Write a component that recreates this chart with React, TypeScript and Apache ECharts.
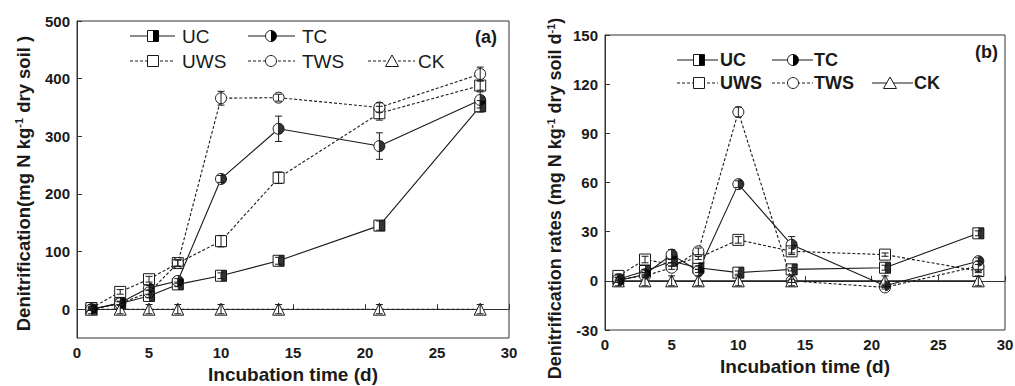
import React, { useEffect, useRef } from "react";
import * as echarts from "echarts";

const FONT = '"Liberation Sans", Arial, Helvetica, sans-serif';
const INK = "#1a1a1a";

// ---------- data ----------
const days = [1, 3, 5, 7, 10, 14, 21, 28];
const xTicks = [0, 5, 10, 15, 20, 25, 30];
const aYTicks = [0, 100, 200, 300, 400, 500];
const bYTicks = [-30, 0, 30, 60, 90, 120, 150];

// (a) cumulative denitrification
const aUC = [0, 10, 23, 43, 58, 84, 145, 352];
const aUCerr = [2, 3, 3, 4, 5, 6, 8, 10];
const aTC = [0, 11, 37, 49, 226, 313, 283, 363];
const aTCerr = [2, 3, 4, 4, 6, 22, 23, 14];
const aUWS = [2, 30, 52, 80, 118, 228, 340, 388];
const aUWSerr = [3, 4, 5, 5, 10, 10, 12, 8];
const aTWS = [0, 10, 29, 80, 366, 367, 350, 408];
const aTWSerr = [2, 3, 4, 6, 12, 6, 8, 12];
const aCK = [0, 0, 0, 0, 0, 0, 0, 0];
const aCKerr = [8, 8, 8, 8, 8, 8, 8, 8];

// (b) denitrification rates
const bUC = [1, 6, 12, 8, 5, 7, 8, 29];
const bUCerr = [1, 1, 1, 1, 1, 1, 1.5, 1.5];
const bTC = [0, 4, 16, 6, 59, 22, -3, 12];
const bTCerr = [1, 1, 3, 1, 2, 5, 1, 2];
const bUWS = [3, 13, 10, 14, 25, 18, 16, 6];
const bUWSerr = [1, 2, 1, 1, 2, 2, 1, 1];
const bTWS = [1, 3, 8, 18, 103, 0, -4, 9];
const bTWSerr = [1, 1, 1, 2, 3, 1, 1, 3];
const bCK = [0, 0, 0, 0, 0, 0, 0, 0];
const bCKerr = [3, 3, 3, 3, 3, 3, 3, 3];

const HALF_CIRCLE = "path://M0 0A10 10 0 0 1 0 20Z";

type Spec = { name: string; vals: number[]; errs: number[]; dashed: boolean; shape: string; half: boolean };

function panelSeries(idx: number, specs: Spec[], size: number) {
  const out: any[] = [];
  specs.forEach((s, k) => {
    const pts = days.map((d, i) => [d, s.vals[i]]);
    out.push({
      type: "line",
      name: s.name,
      xAxisIndex: idx,
      yAxisIndex: idx,
      data: pts,
      symbol: s.shape,
      symbolSize: s.shape === "triangle" ? size + 1 : size,
      showSymbol: true,
      z: 3 + k * 0.01,
      lineStyle: { color: INK, width: 1.1, type: s.dashed ? [3, 2] : "solid" },
      itemStyle: { color: "#fff", borderColor: INK, borderWidth: 1 },
      emphasis: { disabled: true },
    });
    if (s.half) {
      const isCircle = s.shape === "circle";
      out.push({
        type: "scatter",
        xAxisIndex: idx,
        yAxisIndex: idx,
        data: pts,
        symbol: isCircle ? HALF_CIRCLE : "rect",
        symbolSize: [size / 2, size],
        symbolOffset: [size / 4, 0],
        z: 4,
        itemStyle: { color: "#000" },
        emphasis: { disabled: true },
        silent: true,
      });
    }
    out.push({
      type: "custom",
      xAxisIndex: idx,
      yAxisIndex: idx,
      z: 5,
      silent: true,
      data: days.map((d, i) => [d, s.vals[i] - s.errs[i], s.vals[i] + s.errs[i]]),
      encode: { x: 0, y: [1, 2] },
      renderItem: (params: any, api: any) => {
        const x = api.value(0);
        const lo = api.coord([x, api.value(1)]);
        const hi = api.coord([x, api.value(2)]);
        const w = 3.5;
        const st = { stroke: INK, lineWidth: 1 };
        return {
          type: "group",
          children: [
            { type: "line", shape: { x1: lo[0], y1: lo[1], x2: hi[0], y2: hi[1] }, style: st },
            { type: "line", shape: { x1: lo[0] - w, y1: lo[1], x2: lo[0] + w, y2: lo[1] }, style: st },
            { type: "line", shape: { x1: hi[0] - w, y1: hi[1], x2: hi[0] + w, y2: hi[1] }, style: st },
          ],
        };
      },
    });
  });
  return out;
}

function legendMarker(shape: string, half: boolean, cx: number, cy: number, size: number) {
  const r = size / 2;
  const els: any[] = [];
  const st = { fill: "#fff", stroke: INK, lineWidth: 1 };
  if (shape === "rect") {
    els.push({ type: "rect", shape: { x: cx - r, y: cy - r, width: size, height: size }, style: st, z: 10 });
    if (half) els.push({ type: "rect", shape: { x: cx, y: cy - r, width: r, height: size }, style: { fill: "#000" }, z: 11 });
  } else if (shape === "circle") {
    els.push({ type: "circle", shape: { cx, cy, r }, style: st, z: 10 });
    if (half)
      els.push({
        type: "sector",
        shape: { cx, cy, r0: 0, r, startAngle: -Math.PI / 2, endAngle: Math.PI / 2, clockwise: true },
        style: { fill: "#000" },
        z: 11,
      });
  } else {
    els.push({
      type: "polygon",
      shape: { points: [[cx, cy - r - 0.5], [cx + r + 1, cy + r], [cx - r - 1, cy + r]] },
      style: st,
      z: 10,
    });
  }
  return els;
}

function legendEntry(
  name: string,
  shape: string,
  half: boolean,
  dashed: boolean,
  x1: number,
  x2: number,
  mx: number,
  tx: number,
  y: number,
  size: number,
  font: { fontSize: number; fontWeight: string }
) {
  return [
    {
      type: "line",
      shape: { x1, y1: y, x2, y2: y },
      style: { stroke: INK, lineWidth: 1.1, lineDash: dashed ? [3, 2] : null },
      z: 9,
    },
    ...legendMarker(shape, half, mx, y, size),
    {
      type: "text",
      x: tx,
      y,
      style: { text: name, fill: INK, fontFamily: FONT, ...font, verticalAlign: "middle", align: "left" },
      z: 10,
    },
  ];
}

export default function App() {
  const ref = useRef<HTMLDivElement>(null);
  useEffect(() => {
    if (!ref.current) return;
    const chart = echarts.init(ref.current, undefined, { renderer: "svg" });

    const aSpecs: Spec[] = [
      { name: "UC", vals: aUC, errs: aUCerr, dashed: false, shape: "rect", half: true },
      { name: "TC", vals: aTC, errs: aTCerr, dashed: false, shape: "circle", half: true },
      { name: "UWS", vals: aUWS, errs: aUWSerr, dashed: true, shape: "rect", half: false },
      { name: "TWS", vals: aTWS, errs: aTWSerr, dashed: true, shape: "circle", half: false },
      { name: "CK", vals: aCK, errs: aCKerr, dashed: true, shape: "triangle", half: false },
    ];
    const bSpecs: Spec[] = [
      { name: "UC", vals: bUC, errs: bUCerr, dashed: false, shape: "rect", half: true },
      { name: "TC", vals: bTC, errs: bTCerr, dashed: false, shape: "circle", half: true },
      { name: "UWS", vals: bUWS, errs: bUWSerr, dashed: true, shape: "rect", half: false },
      { name: "TWS", vals: bTWS, errs: bTWSerr, dashed: true, shape: "circle", half: false },
      { name: "CK", vals: bCK, errs: bCKerr, dashed: false, shape: "triangle", half: false },
    ];

    const tickLabel = { color: INK, fontFamily: FONT, fontWeight: "bold", fontSize: 15 };
    const nameStyle = { color: INK, fontFamily: FONT, fontWeight: "bold", fontSize: 19 };
    const supRich = { sup: { fontSize: 11, fontWeight: "bold", fontFamily: FONT, color: INK, verticalAlign: "top", padding: [0, 0, 9, 0] } };

    const xAxisBase = (idx: number) => ({
      type: "value",
      gridIndex: idx,
      min: 0,
      max: 30,
      interval: 5,
      name: "Incubation time (d)",
      nameLocation: "middle",
      nameGap: idx === 0 ? 27 : 21,
      nameTextStyle: { ...nameStyle, fontSize: 19 },
      axisLine: { show: true, lineStyle: { color: "#333", width: 1 } },
      axisTick: { show: true, inside: true, length: 5, lineStyle: { color: "#333" } },
      axisLabel: { ...tickLabel, margin: 7, customValues: xTicks },
      splitLine: { show: false },
    });

    const aL = legendEntry;
    const fa = { fontSize: 19, fontWeight: "normal" };
    const fb = { fontSize: 18, fontWeight: "bold" };
    const graphic: any[] = [
      ...aL("UC", "rect", true, false, 130, 175, 153, 182, 36, 11, fa),
      ...aL("TC", "circle", true, false, 248, 295, 271, 302, 36, 11, fa),
      ...aL("UWS", "rect", false, true, 130, 175, 153, 182, 61, 11, fa),
      ...aL("TWS", "circle", false, true, 248, 295, 271, 302, 61, 11, fa),
      ...aL("CK", "triangle", false, true, 368, 415, 392, 418, 61, 11, fa),
      {
        type: "text",
        x: 497,
        y: 37,
        style: { text: "(a)", fill: INK, fontFamily: FONT, fontSize: 18, fontWeight: "bold", align: "right", verticalAlign: "middle" },
      },
      ...aL("UC", "rect", true, false, 677, 718, 699, 720, 60, 11, fb),
      ...aL("TC", "circle", true, false, 772, 813, 793, 814, 60, 11, fb),
      ...aL("UWS", "rect", false, true, 677, 718, 699, 720, 83, 11, fb),
      ...aL("TWS", "circle", false, true, 772, 813, 793, 814, 83, 11, fb),
      ...aL("CK", "triangle", false, false, 872, 913, 890, 914, 83, 11, fb),
      {
        type: "text",
        x: 998,
        y: 52,
        style: { text: "(b)", fill: INK, fontFamily: FONT, fontSize: 18, fontWeight: "bold", align: "right", verticalAlign: "middle" },
      },
    ];

    chart.setOption({
      animation: false,
      backgroundColor: "#fff",
      textStyle: { fontFamily: FONT },
      grid: [
        { left: 77, top: 21, width: 432, height: 317, show: true, borderColor: "#333", borderWidth: 1, backgroundColor: "transparent", containLabel: false, outerBoundsMode: "none" },
        { left: 605, top: 35, width: 400, height: 295, show: true, borderColor: "#333", borderWidth: 1, backgroundColor: "transparent", containLabel: false, outerBoundsMode: "none" },
      ],
      xAxis: [xAxisBase(0), xAxisBase(1)],
      yAxis: [
        {
          type: "value",
          gridIndex: 0,
          min: -50,
          max: 500,
          name: "Denitrification(mg N kg{sup|-1} dry soil )",
          nameLocation: "middle",
          nameGap: 44,
          nameTextStyle: { ...nameStyle, fontSize: 18.5, padding: [0, 8, 0, 0], rich: supRich },
          axisLine: { show: true, lineStyle: { color: "#333", width: 1 } },
          axisTick: { show: true, inside: true, length: 5, customValues: aYTicks, lineStyle: { color: "#333" } },
          axisLabel: { ...tickLabel, margin: 7, customValues: aYTicks },
          splitLine: { show: false },
        },
        {
          type: "value",
          gridIndex: 1,
          min: -30,
          max: 150,
          interval: 30,
          name: "Denitrification rates (mg N kg{sup|-1} dry soil d{sup|-1})",
          nameLocation: "middle",
          nameGap: 40,
          nameTextStyle: { ...nameStyle, fontSize: 18, padding: [0, 32, 0, 0], rich: supRich },
          axisLine: { show: true, lineStyle: { color: "#333", width: 1 } },
          axisTick: { show: true, inside: true, length: 5, customValues: bYTicks, lineStyle: { color: "#333" } },
          axisLabel: { ...tickLabel, margin: 7, customValues: bYTicks },
          splitLine: { show: false },
        },
      ],
      series: [...panelSeries(0, aSpecs, 11), ...panelSeries(1, bSpecs, 11)],
      graphic,
    });
    return () => chart.dispose();
  }, []);
  return <div ref={ref} style={{ position: "fixed", left: 0, top: 0, width: 1015, height: 386 }} />;
}
